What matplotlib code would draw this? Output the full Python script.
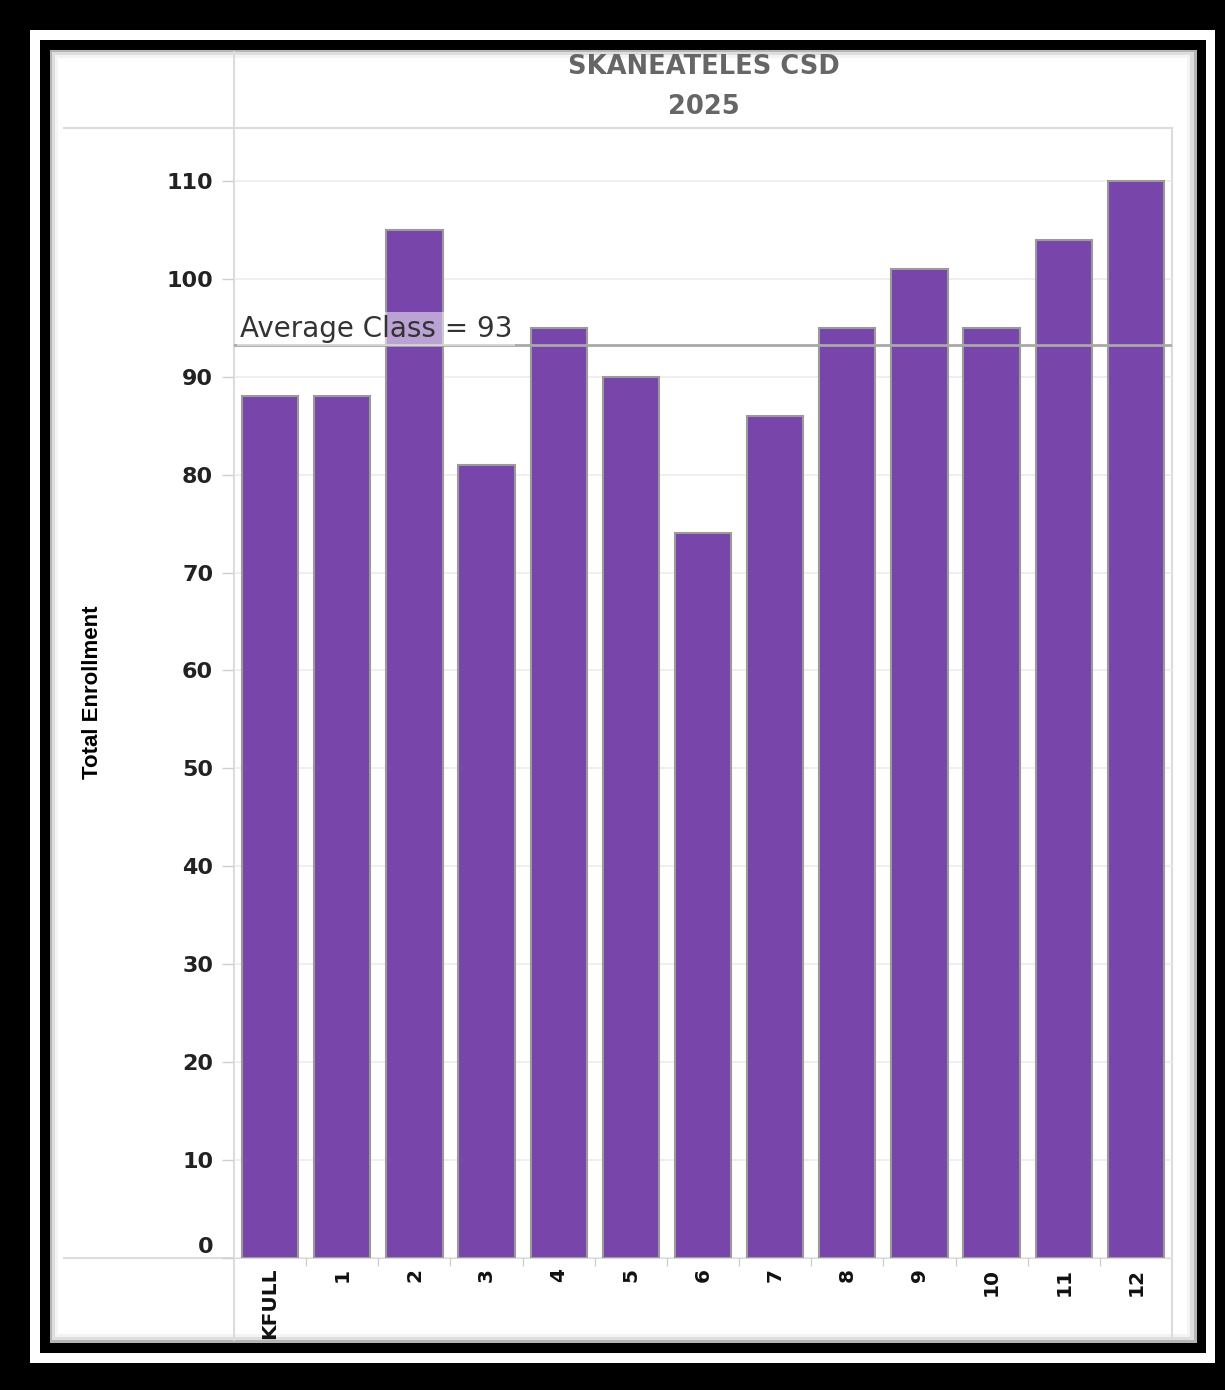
import numpy as np
import matplotlib
matplotlib.use("Agg")
import matplotlib.pyplot as plt
from matplotlib.patches import Rectangle
from matplotlib.lines import Line2D
from matplotlib.transforms import ScaledTranslation

grades = ["KFULL", "1", "2", "3", "4", "5", "6", "7", "8", "9", "10", "11", "12"]
enrollment = [88, 88, 105, 81, 95, 90, 74, 86, 95, 101, 95, 104, 110]
y_ticks = [0, 10, 20, 30, 40, 50, 60, 70, 80, 90, 100, 110]
title_lines = ["SKANEATELES CSD", "2025"]

W, H = 1225, 1390
fig = plt.figure(figsize=(W / 100, H / 100), dpi=100)
fig.patch.set_facecolor("black")

def px(x, y):
	# image pixel coords (top-left origin) -> figure fraction
	return x / W, 1 - y / H

def rect(x0, y0, x1, y1, color, z=0):
	fx0, fy1 = px(x0, y0)
	fx1, fy0 = px(x1, y1)
	fig.add_artist(Rectangle((fx0, fy0), fx1 - fx0, fy1 - fy0, transform=fig.transFigure,
		facecolor=color, edgecolor="none", zorder=z))

def hline(x0, x1, y, color="#dcdcdc", lw=1.5):
	a, b = px(x0, y)
	c, _ = px(x1, y)
	fig.add_artist(Line2D([a, c], [b, b], transform=fig.transFigure, color=color, lw=lw, zorder=3))

def vline(x, y0, y1, color="#dcdcdc", lw=1.5):
	a, b = px(x, y0)
	_, d = px(x, y1)
	fig.add_artist(Line2D([a, a], [b, d], transform=fig.transFigure, color=color, lw=lw, zorder=3))

# frame: white strip, black strip, then the panel with a soft shadow
rect(30, 30, 1215, 1363, "white")
rect(40, 40, 1206, 1353, "black")
rect(50, 50, 1197, 1343, "#b5b5b5", 1)
rect(52, 52, 1194, 1340, "#dedede", 1)
rect(55, 55, 1190, 1337, "#f4f4f4", 1)
rect(58, 58, 1187, 1334, "white", 1)

# header and row dividers
vline(234, 52, 1340)
vline(1172, 128, 1338)
hline(64, 1172, 128)
hline(64, 1172, 1258)

l, t = px(234, 128)
r, b = px(1172, 1258)
ax = fig.add_axes([l, b, r - l, t - b])
ax.set_facecolor("none")
ax.set_zorder(5)

x = np.arange(len(grades))
ax.bar(x, enrollment, width=0.78, color="#7846aa", edgecolor="#9a9a9a", linewidth=1.5, zorder=2)
ax.set_xlim(-0.5, len(grades) - 0.5)
ax.set_ylim(0, 115.4)

for s in ax.spines.values():
	s.set_visible(False)

ax.set_yticks(y_ticks)
ax.yaxis.grid(True, color="#ececec", lw=1.2, zorder=0)
ax.set_axisbelow(True)
ax.tick_params(axis="y", length=8.5, width=1, color="#cfcfcf", pad=6.5, labelsize=16, labelcolor="#222222")
for lab in ax.get_yticklabels():
	lab.set_fontweight("bold")
	lab.set_family("DejaVu Sans")
# the zero label sits a bit higher than its tick
zero = ax.get_yticklabels()[0]
zero.set_transform(zero.get_transform() + ScaledTranslation(0, 13 / 100, fig.dpi_scale_trans))

ax.set_xticks(x)
ax.set_xticklabels(grades, rotation=90, fontsize=14.5, fontweight="bold", family="DejaVu Sans", color="#111111")
ax.tick_params(axis="x", length=0, pad=7)
ax.set_xticks(np.arange(0.5, len(grades) - 1, 1), minor=True)
ax.tick_params(axis="x", which="minor", length=6, width=1, color="#cfcfcf")

avg = np.mean(enrollment)
ax.axhline(avg, color="#a8a8a8", lw=2, zorder=3)
ax.text(-0.42, avg + 0.8, "Average Class = %d" % round(avg), fontsize=20, color="#333333",
	family="DejaVu Sans", va="baseline", ha="left", zorder=4,
	bbox=dict(facecolor="white", alpha=0.5, edgecolor="none", pad=2))

tx, ty = px(704, 67)
fig.text(tx, ty, title_lines[0], ha="center", va="center", fontsize=18.5, fontweight="bold",
	color="#666666", family="DejaVu Sans", zorder=6)
tx, ty = px(704, 107)
fig.text(tx, ty, title_lines[1], ha="center", va="center", fontsize=18.5, fontweight="bold",
	color="#666666", family="DejaVu Sans", zorder=6)

lx, ly = px(92, 692)
fig.text(lx, ly, "Total Enrollment", rotation=90, ha="center", va="center", fontsize=16,
	fontweight="bold", color="black", family="Liberation Sans", zorder=6)

fig.savefig("out.png", dpi=100, facecolor=fig.get_facecolor())
